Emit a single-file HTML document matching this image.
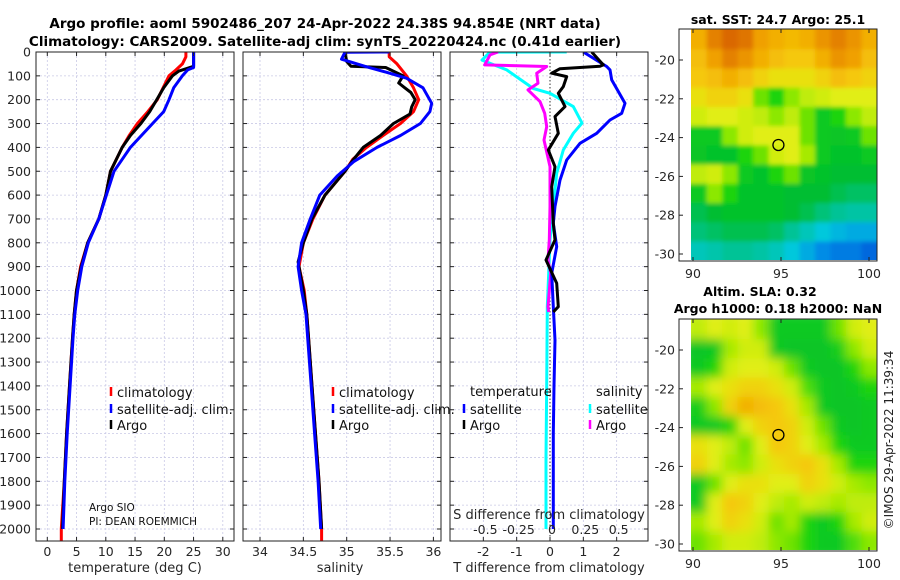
<!DOCTYPE html>
<html><head><meta charset="utf-8"><style>
html,body{margin:0;padding:0;background:#fff;}
svg{display:block;font-family:"DejaVu Sans","Liberation Sans",sans-serif;}
</style></head><body>
<svg id="fig" width="900" height="580" viewBox="0 0 900 580" xmlns="http://www.w3.org/2000/svg">
<defs>
<clipPath id="c1"><rect x="36" y="52" width="198" height="489"/></clipPath>
<clipPath id="c2"><rect x="243" y="52" width="198" height="489"/></clipPath>
<clipPath id="c3"><rect x="450" y="52" width="198" height="489"/></clipPath>
<clipPath id="cm1"><rect x="691" y="29" width="186" height="231"/></clipPath>
<clipPath id="cm2"><rect x="691" y="319" width="186" height="231"/></clipPath>
<filter id="blur" x="-5%" y="-5%" width="110%" height="110%"><feGaussianBlur stdDeviation="2"/></filter>
<filter id="blur2" x="-5%" y="-5%" width="110%" height="110%"><feGaussianBlur stdDeviation="5"/></filter>
</defs>
<text x="325" y="28" text-anchor="middle" font-size="13.5" font-weight="bold">Argo profile: aoml 5902486_207 24-Apr-2022 24.38S 94.854E (NRT data)</text>
<text x="325" y="46" text-anchor="middle" font-size="13.5" font-weight="bold">Climatology: CARS2009. Satellite-adj clim: synTS_20220424.nc (0.41d earlier)</text>
<text x="778" y="24" text-anchor="middle" font-size="12.5" font-weight="bold">sat. SST: 24.7 Argo: 25.1</text>
<text x="760" y="296" text-anchor="middle" font-size="12.5" font-weight="bold">Altim. SLA: 0.32</text>
<text x="778" y="313" text-anchor="middle" font-size="12.5" font-weight="bold">Argo h1000: 0.18 h2000: NaN</text>
<text transform="translate(893,440) rotate(-90)" text-anchor="middle" font-size="12" fill="#222">©IMOS 29-Apr-2022 11:39:34</text>
<g id="g"></g>
</svg>
<script>
// depth axis
const depthTicks=[0,100,200,300,400,500,600,700,800,900,1000,1100,1200,1300,1400,1500,1600,1700,1800,1900,2000];
// panel 1 temperature
const tTicks=[0,5,10,15,20,25,30];
const tClimD=[0,20,50,75,100,150,200,250,300,350,400,500,600,700,800,900,1000,1100,1200,1400,1600,1800,2000,2050];
const tClimV=[23.7,23.7,23.1,22.0,20.8,19.8,18.8,17.2,15.4,14.0,12.8,10.8,10.0,8.8,6.9,5.7,5.0,4.6,4.3,3.8,3.3,2.9,2.4,2.4];
const tSatD=[0,65,75,100,150,200,250,300,400,500,600,700,800,900,1000,1100,1200,1400,1600,1800,2000];
const tSatV=[25.0,25.0,24.0,23.1,21.6,20.8,19.9,18.0,14.2,11.4,10.1,8.8,7.0,5.9,5.2,4.7,4.4,3.9,3.4,3.0,2.7];
const tArgoD=[0,60,80,100,150,200,250,300,350,400,500,600,700,800,900,1000,1100,1200,1400,1600,1800,2000];
const tArgoV=[25.0,25.0,22.5,21.4,19.9,18.7,17.5,16.0,14.2,12.8,10.8,10.0,8.8,6.9,5.8,5.0,4.6,4.3,3.8,3.3,2.9,2.6];
// panel 2 salinity
const sTicks=[34,34.5,35,35.5,36];
const sClimD=[0,20,50,100,150,200,250,300,350,400,450,500,600,700,800,900,1000,1100,1200,1400,1600,1800,2000,2050];
const sClimV=[35.49,35.49,35.58,35.69,35.77,35.83,35.77,35.62,35.42,35.23,35.07,34.98,34.75,34.61,34.50,34.45,34.51,34.54,34.56,34.60,34.64,34.68,34.71,34.71];
const sSatD=[0,1,30,62,85,110,150,215,250,300,350,400,460,520,600,700,800,900,1000,1100,1200,1400,1600,1800,2000];
const sSatV=[35.49,34.98,34.94,35.23,35.46,35.69,35.88,35.98,35.96,35.85,35.62,35.35,35.08,34.89,34.69,34.58,34.48,34.44,34.48,34.53,34.55,34.59,34.63,34.67,34.70];
const sArgoD=[0,40,60,65,100,130,150,170,200,230,260,300,350,400,450,500,600,700,800,880,1000,1100,1200,1400,1600,1800,2000];
const sArgoV=[34.98,35.00,35.05,35.45,35.65,35.60,35.67,35.74,35.79,35.75,35.73,35.54,35.39,35.19,35.08,34.98,34.75,34.60,34.50,34.44,34.50,34.54,34.56,34.60,34.64,34.68,34.71];
// panel 3 differences
const dTTicks=[-2,-1,0,1,2];
const dSTicks=[-0.5,-0.25,0,0.25,0.5];
const dSTickLabels=["-0.5","-0.25","0","0.25","0.5"];
const dTSatD=[0,61,75,117,215,257,285,341,383,453,537,648,718,816,928,1068,1208,1400,1600,1800,2000];
const dTSatV=[1.0,1.7,1.8,1.85,2.25,2.15,1.8,1.4,0.9,0.5,0.3,0.15,0.1,0.2,0.05,0.1,0.15,0.12,0.1,0.1,0.1];
const dTArgoD=[0,54,60,70,89,103,145,173,229,271,341,411,481,565,718,788,872,970,1068,1090];
const dTArgoV=[1.25,1.6,1.5,0.3,0.05,0.5,0.4,0.25,0.45,0.15,0.25,-0.05,0.15,0.05,0.1,0.15,-0.12,0.2,0.25,0.1];
const dSSatD=[0,0.5,34,75,153,173,229,298,341,411,509,648,788,928,1068,1400,1700,2000];
const dSSatV=[0.125,-0.45,-0.51,-0.325,-0.125,0,0.175,0.24,0.175,0.1,0.05,0.025,0,-0.01,-0.02,-0.025,-0.03,-0.03];
const dSArgoD=[0,12,54,61,89,131,159,208,257,313,369,481,648,788,872,928,1068,1090];
const dSArgoV=[-0.39,-0.45,-0.49,-0.025,-0.1,-0.09,-0.165,-0.075,-0.04,-0.025,-0.045,0,0,-0.005,-0.015,0.005,-0.015,-0.01];
// maps
const mapLonTicks=[90,95,100];
const mapLatTicks=[-20,-22,-24,-26,-28,-30];
const argoLon=94.854, argoLat=-24.38;
const sstGrid=[
[0.85,0.93,0.97,0.95,0.88,0.85,0.83,0.85,0.9,0.93,0.9,0.85],
[0.82,0.88,0.93,0.9,0.85,0.82,0.8,0.8,0.85,0.9,0.88,0.82],
[0.8,0.82,0.85,0.82,0.78,0.75,0.75,0.75,0.78,0.82,0.8,0.78],
[0.75,0.78,0.78,0.75,0.6,0.55,0.62,0.68,0.7,0.72,0.72,0.72],
[0.7,0.72,0.72,0.7,0.68,0.62,0.68,0.6,0.5,0.55,0.62,0.68],
[0.5,0.5,0.62,0.7,0.72,0.72,0.72,0.6,0.5,0.48,0.5,0.6],
[0.48,0.47,0.47,0.55,0.6,0.7,0.72,0.65,0.5,0.47,0.47,0.5],
[0.68,0.7,0.62,0.5,0.47,0.55,0.6,0.48,0.47,0.45,0.45,0.45],
[0.5,0.62,0.55,0.47,0.47,0.47,0.45,0.45,0.45,0.42,0.4,0.4],
[0.42,0.45,0.47,0.47,0.47,0.47,0.45,0.42,0.38,0.35,0.33,0.33],
[0.38,0.4,0.42,0.42,0.42,0.4,0.35,0.3,0.25,0.22,0.2,0.2],
[0.3,0.32,0.35,0.35,0.33,0.3,0.25,0.2,0.15,0.12,0.12,0.08]];
const slaGrid=[
[0.68,0.72,0.7,0.72,0.62,0.5,0.5,0.5,0.5,0.6,0.7,0.72],
[0.48,0.5,0.65,0.7,0.7,0.5,0.48,0.48,0.48,0.52,0.62,0.7],
[0.5,0.55,0.7,0.72,0.72,0.7,0.6,0.5,0.48,0.48,0.55,0.62],
[0.65,0.72,0.75,0.78,0.78,0.75,0.7,0.58,0.5,0.48,0.5,0.55],
[0.52,0.62,0.78,0.85,0.82,0.8,0.75,0.65,0.5,0.48,0.48,0.5],
[0.5,0.5,0.55,0.72,0.78,0.8,0.78,0.7,0.6,0.5,0.48,0.5],
[0.75,0.72,0.68,0.6,0.72,0.8,0.78,0.72,0.65,0.55,0.5,0.5],
[0.78,0.72,0.65,0.62,0.7,0.75,0.78,0.8,0.75,0.65,0.55,0.55],
[0.5,0.6,0.72,0.75,0.75,0.72,0.72,0.78,0.75,0.7,0.65,0.62],
[0.5,0.72,0.8,0.78,0.72,0.68,0.65,0.7,0.68,0.65,0.68,0.68],
[0.65,0.72,0.78,0.75,0.7,0.6,0.65,0.55,0.5,0.55,0.65,0.7],
[0.6,0.65,0.7,0.7,0.68,0.62,0.6,0.55,0.5,0.5,0.58,0.62]];

const NS='http://www.w3.org/2000/svg';
const G=document.getElementById('g');
function el(tag,attrs,parent,text){const e=document.createElementNS(NS,tag);for(const k in attrs)e.setAttribute(k,attrs[k]);if(text!==undefined)e.textContent=text;(parent||G).appendChild(e);return e;}
const Y=d=>52+d*0.2385;
const xT=v=>47.3+v*5.85;
const xS=v=>260+(v-34)*86.7;
const xDT=v=>550+v*33.33;
const xDS=v=>550+v*133.3;
const PB=541;

function panel(name){
  const g=el('g',{});
  
  
  return g;
}
function grid(g,left,xs){
  xs.forEach(x=>{const l=el('line',{x1:x,x2:x,y1:52,y2:PB,stroke:'#c9c9e6','stroke-width':0.8,'stroke-dasharray':'2,2'},g);});
  depthTicks.forEach(d=>{const l=el('line',{x1:left,x2:left+198,y1:Y(d),y2:Y(d),stroke:'#c9c9e6','stroke-width':0.8,'stroke-dasharray':'2,2'},g);
    el('line',{x1:left,x2:left+4,y1:Y(d),y2:Y(d),stroke:'#222'},g);el('line',{x1:left+194,x2:left+198,y1:Y(d),y2:Y(d),stroke:'#222'},g);});
}
function frame(g,left){const r=el('rect',{x:left,y:52,width:198,height:PB-52,fill:'none',stroke:'#222','stroke-width':1},g);}
function line(g,D,V,fx,color,w,name,clip){
  let d='';D.forEach((dd,i)=>{d+=(i?'L':'M')+fx(V[i]).toFixed(1)+','+Y(dd).toFixed(1);});
  const p=el('path',{d:d,fill:'none',stroke:color,'stroke-width':w,'stroke-linejoin':'round','clip-path':'url(#'+clip+')'},g);
  
  
}
function xlabels(g,ticks,fx){ticks.forEach(t=>{const tx=el('text',{x:fx(t),y:556,'text-anchor':'middle','font-size':12.5,fill:'#262626'},g,String(t));
  el('line',{x1:fx(t),x2:fx(t),y1:PB,y2:PB-4,stroke:'#222'},g);el('line',{x1:fx(t),x2:fx(t),y1:52,y2:56,stroke:'#222'},g);});}
function legendItem(g,x,y,color,label,name){
  el('line',{x1:x,x2:x,y1:y-5,y2:y+4,stroke:color,'stroke-width':2.5},g);
  const t=el('text',{x:x+6,y:y+5,'font-size':13,fill:'#111'},g,label);
  
  
}

depthTicks.forEach(d=>{const t=el('text',{x:31,y:Y(d)+4.5,'text-anchor':'end','font-size':12.5,fill:'#262626'},G,String(d));});

// Panel 1
const p1=panel('temperature-panel');
grid(p1,36,tTicks.map(xT));
line(p1,tClimD,tClimV,xT,'#ff0000',3,'temp-climatology-line','c1');
line(p1,tArgoD,tArgoV,xT,'#000000',3,'temp-argo-line','c1');
line(p1,tSatD,tSatV,xT,'#0000ff',3,'temp-satellite-line','c1');
frame(p1,36);
xlabels(p1,tTicks,xT);
{const t=el('text',{x:135,y:572,'text-anchor':'middle','font-size':13,fill:'#262626'},p1,'temperature (deg C)');}
legendItem(p1,111,392,'#ff0000','climatology','legend-climatology');
legendItem(p1,111,409,'#0000ff','satellite-adj. clim.','legend-satellite-adj');
legendItem(p1,111,425,'#000000','Argo','legend-argo');
{const t=el('text',{x:89,y:511,'font-size':10.5,fill:'#111'},p1,'Argo SIO');
const t2=el('text',{x:89,y:525,'font-size':10.5,fill:'#111'},p1,'PI: DEAN ROEMMICH');}

// Panel 2
const p2=panel('salinity-panel');
grid(p2,243,sTicks.map(xS));
line(p2,sClimD,sClimV,xS,'#ff0000',3,'sal-climatology-line','c2');
line(p2,sArgoD,sArgoV,xS,'#000000',3,'sal-argo-line','c2');
line(p2,sSatD,sSatV,xS,'#0000ff',3,'sal-satellite-line','c2');
frame(p2,243);
xlabels(p2,sTicks,xS);
{const t=el('text',{x:340,y:572,'text-anchor':'middle','font-size':13,fill:'#262626'},p2,'salinity');}
legendItem(p2,333,392,'#ff0000','climatology','legend-climatology');
legendItem(p2,333,409,'#0000ff','satellite-adj. clim.','legend-satellite-adj');
legendItem(p2,333,425,'#000000','Argo','legend-argo');

// Panel 3
const p3=panel('difference-panel');
grid(p3,450,dTTicks.filter(v=>v!==0).map(xDT));
el('line',{x1:xDT(0),x2:xDT(0),y1:52,y2:PB,stroke:'#333','stroke-width':1,'stroke-dasharray':'1.5,2'},p3);
line(p3,dSSatD,dSSatV,xDS,'#00ffff',3,'sal-diff-satellite-line','c3');
line(p3,dSArgoD,dSArgoV,xDS,'#ff00ff',3,'sal-diff-argo-line','c3');
line(p3,dTSatD,dTSatV,xDT,'#0000ff',3,'temp-diff-satellite-line','c3');
line(p3,dTArgoD,dTArgoV,xDT,'#000000',3,'temp-diff-argo-line','c3');
frame(p3,450);
xlabels(p3,dTTicks,xDT);
dSTicks.forEach((t,i)=>{const tx=el('text',{x:xDS(t)+2,y:534,'text-anchor':'middle','font-size':12.5,fill:'#262626'},p3,dSTickLabels[i]);});
{const t=el('text',{x:549,y:519,'text-anchor':'middle','font-size':13,fill:'#262626'},p3,'S difference from climatology');
const t2=el('text',{x:549,y:572,'text-anchor':'middle','font-size':13,fill:'#262626'},p3,'T difference from climatology');
const t3=el('text',{x:470,y:396,'font-size':13,fill:'#111'},p3,'temperature');
const t4=el('text',{x:596,y:396,'font-size':13,fill:'#111'},p3,'salinity');}
legendItem(p3,464,409,'#0000ff','satellite','legend-temp-satellite');
legendItem(p3,464,425,'#000000','Argo','legend-temp-argo');
legendItem(p3,590,409,'#00ffff','satellite','legend-sal-satellite');
legendItem(p3,590,425,'#ff00ff','Argo','legend-sal-argo');

// colormap
const stops=[[0,[0,60,210]],[0.15,[0,140,230]],[0.25,[0,200,220]],[0.35,[0,195,150]],[0.45,[0,190,50]],[0.55,[30,212,15]],[0.62,[140,232,0]],[0.72,[225,238,20]],[0.8,[245,200,10]],[0.88,[240,160,0]],[1,[210,85,0]]];
function cmap(v){for(let i=1;i<stops.length;i++){if(v<=stops[i][0]){const a=stops[i-1],b=stops[i],f=(v-a[0])/(b[0]-a[0]);const c=a[1].map((x,k)=>Math.round(x+(b[1][k]-x)*f));return 'rgb('+c.join(',')+')';}}return 'rgb(210,85,0)';}
function mapPanel(grid,top,name,clip,blur,lat20y){
  const g=el('g',{});
  
  
  const mx=lon=>693+(lon-90)*17.6;
  const my=lat=>lat20y+(-20-lat)*19.4;
  const cg=el('g',{'clip-path':'url(#'+clip+')'},g);
  const ig=el('g',{filter:'url(#'+blur+')'},cg);
  const rows=grid.length, cols=grid[0].length;
  const lon0=89.9,lon1=100.45,lat0=-18.45,lat1=-30.35;
  for(let r=0;r<rows;r++)for(let c=0;c<cols;c++){
    const x0=mx(lon0+(lon1-lon0)*c/cols), x1=mx(lon0+(lon1-lon0)*(c+1)/cols);
    const y0=my(lat0+(lat1-lat0)*r/rows), y1=my(lat0+(lat1-lat0)*(r+1)/rows);
    const ex=(c===0||c===cols-1)?8:0.5, ey=(r===0||r===rows-1)?8:0.5;
    const cell=el('rect',{x:x0-(c===0?8:0),y:y0-(r===0?8:0),width:x1-x0+ex+0.5,height:y1-y0+ey+0.5,fill:cmap(grid[r][c])},ig);
    
    
  }
  const fr=el('rect',{x:679,y:top,width:198,height:232,fill:'none',stroke:'#222'},g);
  
  
  mapLatTicks.forEach(l=>{el('line',{x1:679,x2:683,y1:my(l),y2:my(l),stroke:'#222'},g);
    const t=el('text',{x:675,y:my(l)+4.5,'text-anchor':'end','font-size':12.5,fill:'#262626'},g,String(l));});
  mapLonTicks.forEach(l=>{el('line',{x1:mx(l),x2:mx(l),y1:top+232,y2:top+228,stroke:'#222'},g);el('line',{x1:mx(l),x2:mx(l),y1:top,y2:top+4,stroke:'#222'},g);
    const t=el('text',{x:mx(l),y:top+249,'text-anchor':'middle','font-size':12.5,fill:'#262626'},g,String(l));});
  const m=el('circle',{cx:mx(argoLon),cy:my(argoLat),r:5.5,fill:'none',stroke:'#000','stroke-width':1.3},g);
  
  
}
mapPanel(sstGrid,29,'sst-map','cm1','blur',60);
mapPanel(slaGrid,319,'sla-map','cm2','blur2',350);
</script>
</body></html>
